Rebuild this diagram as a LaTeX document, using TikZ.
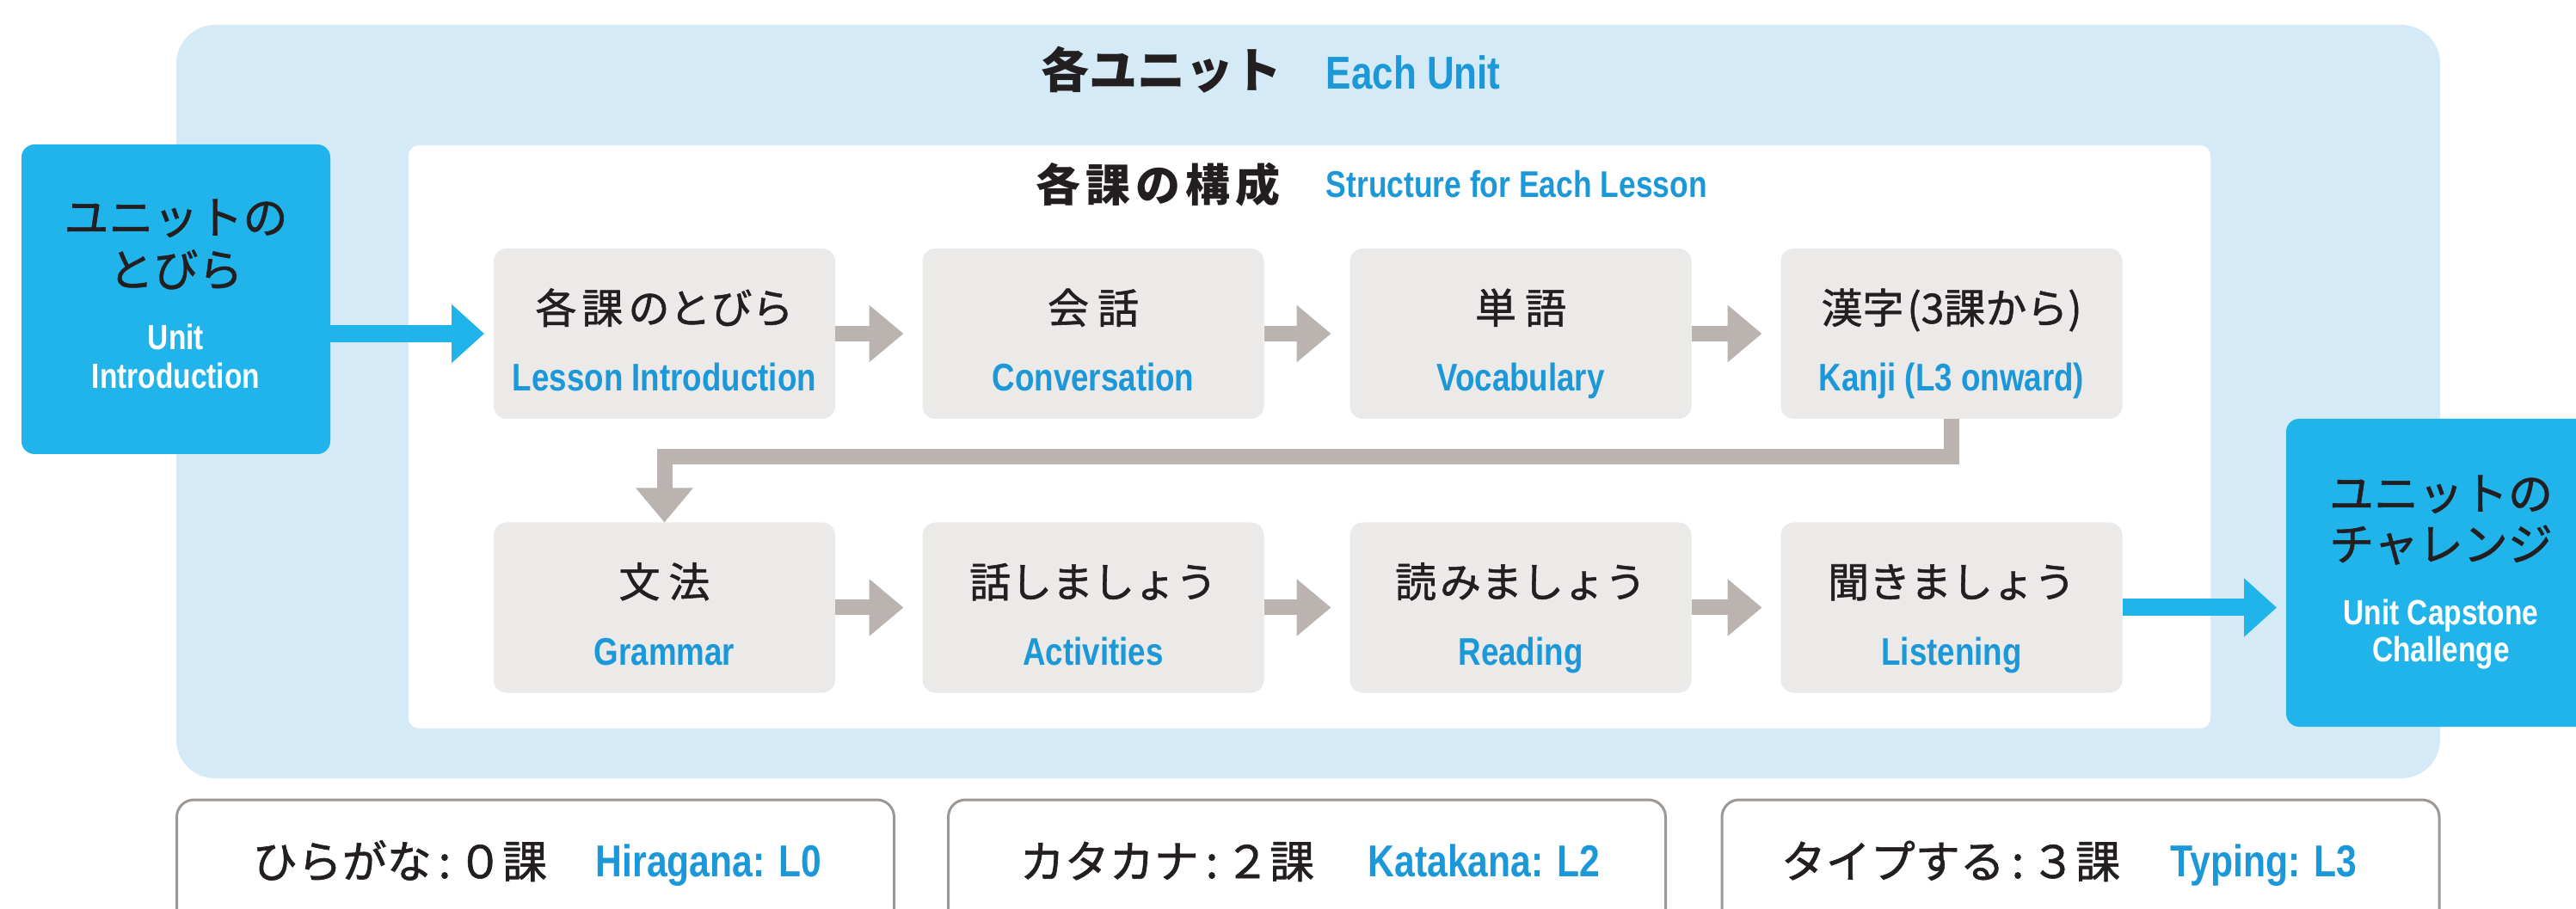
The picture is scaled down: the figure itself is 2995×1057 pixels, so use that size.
\documentclass[tikz,border=0pt]{standalone}
\usepackage{fontspec}
\setmainfont{Liberation Sans}
\newfontfamily\jp{Noto Sans CJK JP}[FakeBold=1.2]
\newfontfamily\jpb{Noto Sans CJK JP}
\newfontfamily\en{Liberation Sans}[FakeStretch=0.82]
\usetikzlibrary{arrows.meta,calc}
\definecolor{cyanbox}{RGB}{32,180,235}
\definecolor{paleblue}{RGB}{212,234,247}
\definecolor{boxgray}{RGB}{235,234,232}
\definecolor{arrowgray}{RGB}{186,179,175}
\definecolor{enblue}{RGB}{28,152,216}
\definecolor{ink}{RGB}{35,31,32}
\definecolor{framegray}{RGB}{158,152,148}
\newcommand{\lessonbox}[5]{%
  \node[gbox] (#1) at (#2,#3) {};
  \node[jpt] (#1-jp) at ($(#1.center)+(0,-12)$) {#4};
  \node[ent] (#1-en) at ($(#1.center)+(0,67)$) {#5};
}
\begin{document}
\begin{tikzpicture}[x=0.25pt,y=-0.25pt,
  panel/.style={inner sep=0pt, outer sep=0pt},
  gbox/.style={fill=boxgray, rounded corners=3.75pt, minimum width=99.25pt, minimum height=49.5pt, inner sep=0pt, outer sep=0pt},
  jpt/.style={font=\jp\fontsize{12}{14}\selectfont, text=ink, inner sep=0pt, anchor=base},
  ent/.style={font=\en\bfseries\fontsize{11.2}{13}\selectfont, text=enblue, inner sep=0pt, anchor=base},
  bigjp/.style={font=\jp\fontsize{13}{15}\selectfont, text=ink, inner sep=0pt, anchor=base},
  whiteen/.style={font=\en\bfseries\fontsize{10.2}{12}\selectfont, text=white, inner sep=0pt, anchor=base},
  botjp/.style={font=\jp\fontsize{13}{15}\selectfont, text=ink, inner sep=0pt, anchor=base west},
  boten/.style={font=\en\bfseries\fontsize{13}{15}\selectfont, text=enblue, inner sep=0pt, anchor=base west},
  botbox/.style={draw=framegray, line width=0.75pt, fill=white, rounded corners=5pt, minimum width=208.5pt, minimum height=50pt, inner sep=0pt},
  garrow/.style={draw=arrowgray, line width=4.5pt, line join=miter, -{Triangle[width=16pt,length=10pt]}},
  barrow/.style={draw=cyanbox, line width=5pt, -{Triangle[width=16.5pt,length=9.5pt]}}
]
\useasboundingbox (0,0) rectangle (2995,1057);
\clip (0,0) rectangle (2995,1057);
\fill[white] (0,0) rectangle (2995,1057);

% panels
\node[panel, fill=paleblue, rounded corners=11.25pt, minimum width=658pt, minimum height=219pt] (unit) at (1521,467) {};
\node[panel, fill=white, rounded corners=3pt, minimum width=523.75pt, minimum height=169.5pt] (lesson) at (1522.5,508) {};

% titles
\node[font=\jpb\bfseries\fontsize{14}{16}\selectfont, text=ink, inner sep=0pt, anchor=base west] (t1jp) at (1210,103) {各ユニット};
\node[font=\en\bfseries\fontsize{13.4}{15}\selectfont, text=enblue, inner sep=0pt, anchor=base west] (t1en) at (1541,104) {Each Unit};
\node[font=\jpb\bfseries\fontsize{13}{15}\selectfont, text=ink, inner sep=0pt, anchor=base west] (t2jp) at (1204,235) {各\hspace{1.5pt}課\hspace{1.5pt}の\hspace{1.5pt}構\hspace{1.5pt}成};
\node[font=\en\bfseries\fontsize{10.8}{12}\selectfont, text=enblue, inner sep=0pt, anchor=base west] (t2en) at (1541,230) {Structure for Each Lesson};

% unit intro and capstone
\node[panel, fill=cyanbox, rounded corners=3.75pt, minimum width=89.75pt, minimum height=90pt] (ui) at (204.5,348) {};
\node[bigjp] (ui1) at (204.5,272) {ユニットの};
\node[bigjp] (ui2) at (204.5,333) {とびら};
\node[whiteen] (ui3) at (204.5,407) {Unit};
\node[whiteen] (ui4) at (204.5,452) {Introduction};

\node[panel, fill=cyanbox, rounded corners=3.75pt, minimum width=95.5pt, minimum height=89.5pt] (cap) at (2849,666) {};
\node[bigjp] (cap1) at (2838,593) {ユニットの};
\node[bigjp] (cap2) at (2838,652) {チャレンジ};
\node[whiteen] (cap3) at (2838,727) {Unit Capstone};
\node[whiteen] (cap4) at (2838,770) {Challenge};

% lesson boxes
\lessonbox{b1}{772.5}{388}{各\hspace{1.5pt}課\hspace{1.5pt}のとびら}{Lesson Introduction}
\lessonbox{b2}{1271}{388}{会\hspace{2.5pt}話}{Conversation}
\lessonbox{b3}{1768}{388}{単\hspace{2.5pt}語}{Vocabulary}
\lessonbox{b4}{2269}{388}{漢字\hspace{1pt}(3課から)}{Kanji (L3 onward)}
\lessonbox{l1}{772.5}{706.5}{文\hspace{2.5pt}法}{Grammar}
\lessonbox{l2}{1271}{706.5}{話しましょう}{Activities}
\lessonbox{l3}{1768}{706.5}{読\hspace{1pt}みましょう}{Reading}
\lessonbox{l4}{2269}{706.5}{聞きましょう}{Listening}

% connectors
\draw[garrow, shorten >=5.5pt] (b1) -- (b2);
\draw[garrow, shorten >=5.5pt] (b2) -- (b3);
\draw[garrow, shorten >=5.5pt] (b3) -- (b4);
\draw[garrow, shorten >=5.5pt] (l1) -- (l2);
\draw[garrow, shorten >=5.5pt] (l2) -- (l3);
\draw[garrow, shorten >=5.5pt] (l3) -- (l4);
\coordinate (turn) at (1500,531);
\draw[garrow] (b4.south) |- (turn) -| (l1.north);
\draw[barrow, shorten >=2.75pt] (ui.east |- b1.west) -- (b1.west);
\draw[barrow, shorten >=2.75pt] (l4.east) -- (l4.east -| cap.west);

% bottom boxes
\node[botbox] (hira) at (622.5,1030) {};
\node[botbox] (kata) at (1519.5,1030) {};
\node[botbox] (type) at (2419,1030) {};
\node[botjp] (hirajp) at (293,1021) {ひらがな\hspace{2pt}:\hspace{2pt}０課};
\node[boten] (hiraen) at (692,1019) {Hiragana: L0};
\node[botjp] (katajp) at (1185,1021) {カタカナ\hspace{2pt}:\hspace{2pt}２課};
\node[boten] (kataen) at (1590,1019) {Katakana: L2};
\node[botjp] (typejp) at (2070,1021) {タイプする\hspace{2pt}:\hspace{2pt}３課};
\node[boten] (typeen) at (2523,1019) {Typing: L3};
\end{tikzpicture}
\end{document}
